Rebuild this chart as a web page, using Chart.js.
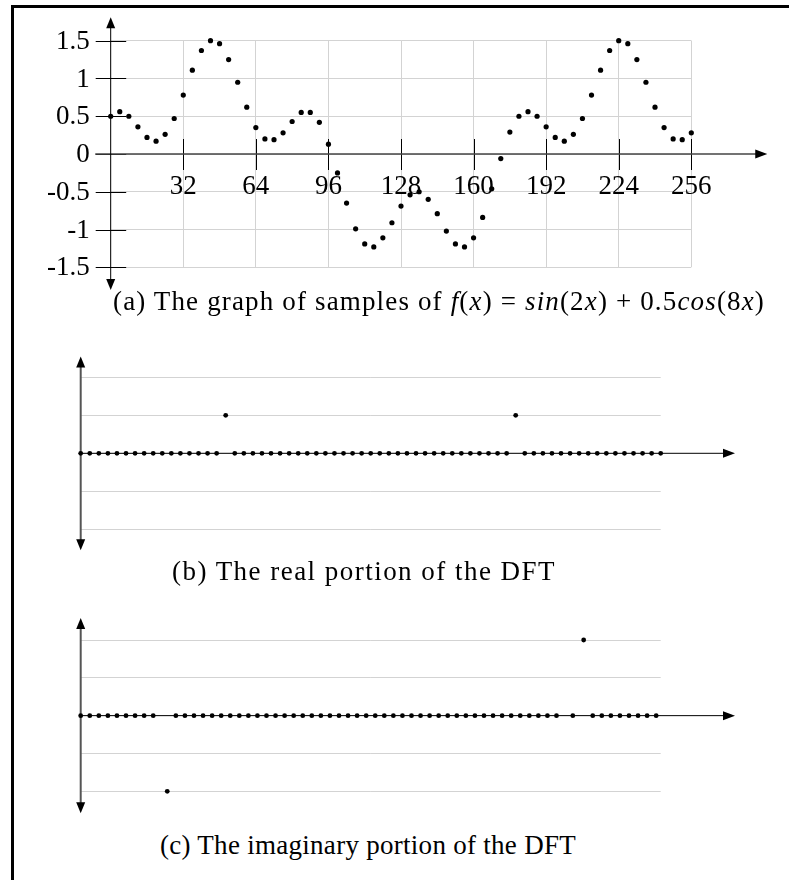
<!DOCTYPE html>
<html>
<head>
<meta charset="utf-8">
<script src="https://cdn.jsdelivr.net/npm/chart.js@4/dist/chart.umd.min.js"></script>
<style>
body{margin:0;background:#fff;width:789px;height:880px;overflow:hidden;position:relative;font-family:"Liberation Serif","DejaVu Serif",serif;}
#frame{position:absolute;left:11px;top:5px;width:820px;height:920px;border-left:3px solid #000;border-top:3px solid #000;}
canvas{position:absolute;left:0;}
.cap{position:absolute;white-space:nowrap;font-size:27px;line-height:32px;color:#000;}
</style>
</head>
<body>
<div id="frame"></div>
<canvas id="chartA" width="789" height="300" style="top:0px"></canvas>
<canvas id="chartB" width="789" height="230" style="top:330px"></canvas>
<canvas id="chartC" width="789" height="230" style="top:595px"></canvas>
<div class="cap" id="capA">(a) The graph of samples of <i>f</i>(<i>x</i>) = <i>sin</i>(2<i>x</i>) + 0.5<i>cos</i>(8<i>x</i>)</div>
<div class="cap" id="capB">(b) The real portion of the DFT</div>
<div class="cap" id="capC">(c) The imaginary portion of the DFT</div>
<script>
// (a) 標本点
const sampleX = [0,4,8,12,16,20,24,28,32,36,40,44,48,52,56,60,64,68,72,76,80,84,88,92,96,100,104,108,112,116,120,124,
  128,132,136,140,144,148,152,156,160,164,168,172,176,180,184,188,192,196,200,204,208,212,216,220,224,228,232,236,240,244,248,252,256];
const sampleY = [0.50,0.56,0.50,0.36,0.22,0.17,0.26,0.47,0.78,1.11,1.37,1.50,1.46,1.25,0.95,0.62,0.35,0.20,0.19,0.28,0.43,0.55,0.55,0.42,0.13,-0.25,-0.65,-0.99,-1.19,-1.23,-1.11,-0.91,
  -0.69,-0.54,-0.50,-0.60,-0.79,-1.02,-1.19,-1.23,-1.11,-0.84,-0.46,-0.06,0.29,0.50,0.56,0.50,0.36,0.22,0.17,0.26,0.47,0.78,1.11,1.37,1.50,1.46,1.25,0.95,0.62,0.35,0.20,0.19,0.28];
const xTickValues = [32,64,96,128,160,192,224,256];
const xTickLabels = ['32','64','96','128','160','192','224','256'];
const yTickValues = [1.5,1,0.5,0,-0.5,-1,-1.5];
const yTickLabels = ['1.5','1','0.5','0','-0.5','-1','-1.5'];

// (b) 実部
const realX = [0,1,2,3,4,5,6,7,8,9,10,11,12,13,14,15,16,17,18,19,20,21,22,23,24,25,26,27,28,29,30,31,
  32,33,34,35,36,37,38,39,40,41,42,43,44,45,46,47,48,49,50,51,52,53,54,55,56,57,58,59,60,61,62,63,64];
const realY = [0,0,0,0,0,0,0,0,0,0,0,0,0,0,0,0,1,0,0,0,0,0,0,0,0,0,0,0,0,0,0,0,
  0,0,0,0,0,0,0,0,0,0,0,0,0,0,0,0,1,0,0,0,0,0,0,0,0,0,0,0,0,0,0,0,0];

// (c) 虚部
const imagX = [0,1,2,3,4,5,6,7,8,9.55,10.5,11.5,12.5,13.5,14.5,15.5,16.5,17.5,18.5,19.5,20.5,21.5,22.5,23.5,24.5,25.5,26.5,27.5,28.5,29.5,30.5,31.5,
  32.5,33.5,34.5,35.5,36.5,37.5,38.5,39.5,40.5,41.5,42.5,43.5,44.5,45.5,46.5,47.5,48.5,49.5,50.5,51.5,52.5,54.3,55.5,56.5,57.5,58.5,59.5,60.5,61.5,62.5,63.5];
const imagY = [0,0,0,0,0,0,0,0,0,-2,0,0,0,0,0,0,0,0,0,0,0,0,0,0,0,0,0,0,0,0,0,0,
  0,0,0,0,0,0,0,0,0,0,0,0,0,0,0,0,0,0,0,0,0,0,2,0,0,0,0,0,0,0,0,0];
const dftTicks = [-2,-1,0,1,2];

const labelFont = '27px "Liberation Serif", "DejaVu Serif", serif';

function toPoints(xs, ys) {
    return xs.map((x, i) => ({x: x, y: ys[i]}));
}

function arrow(c, x, y, dir, len, half) {
    c.beginPath();
    c.moveTo(x, y);
    if (dir === 'right') { c.lineTo(x - len, y - half); c.lineTo(x - len, y + half); }
    if (dir === 'up')    { c.lineTo(x - half, y + len); c.lineTo(x + half, y + len); }
    if (dir === 'down')  { c.lineTo(x - half, y - len); c.lineTo(x + half, y - len); }
    c.closePath();
    c.fill();
}

// 軸と目盛りを描く
function axesPlugin(o) {
    return {
        id: 'axes',
        beforeDatasetsDraw(chart) {
            const c = chart.ctx, xs = chart.scales.x, ys = chart.scales.y;
            const x0 = xs.getPixelForValue(0), y0 = ys.getPixelForValue(0);
            c.save();
            c.fillStyle = '#000';
            // 目盛り線とラベル
            if (o.labels) {
                c.strokeStyle = '#000';
                c.lineWidth = 1;
                c.beginPath();
                yTickValues.forEach(v => {
                    const py = Math.round(ys.getPixelForValue(v)) + 0.5;
                    c.moveTo(x0 - 15, py); c.lineTo(x0 + 15.5, py);
                });
                xTickValues.forEach(v => {
                    const px = Math.round(xs.getPixelForValue(v)) + 0.5;
                    c.moveTo(px, y0 - 15); c.lineTo(px, y0 + 16);
                });
                c.stroke();
                c.font = labelFont;
                c.textBaseline = 'middle';
                c.textAlign = 'right';
                yTickValues.forEach((v, i) => c.fillText(yTickLabels[i], x0 - 21, ys.getPixelForValue(v) + 1));
                c.textAlign = 'center';
                xTickValues.forEach((v, i) => c.fillText(xTickLabels[i], xs.getPixelForValue(v), y0 + 33));
            }
            // x軸
            const xa = xs.getPixelForValue(o.xFrom), xb = xs.getPixelForValue(o.xTo);
            c.strokeStyle = o.xColor;
            c.lineWidth = o.xWidth;
            c.beginPath(); c.moveTo(xa, y0); c.lineTo(xb - 6, y0); c.stroke();
            arrow(c, xb, y0, 'right', 12, 4.5);
            // y軸
            const ya = ys.getPixelForValue(o.yTo), yb = ys.getPixelForValue(o.yFrom);
            c.strokeStyle = o.yColor;
            c.lineWidth = o.yWidth;
            c.beginPath(); c.moveTo(x0, ya + 6); c.lineTo(x0, yb - 6); c.stroke();
            arrow(c, x0, ya, 'up', 11, 4.5);
            arrow(c, x0, yb, 'down', 11, 4.5);
            c.restore();
        }
    };
}

function baseOptions(pad, xmin, xmax, xstep, xgrid, ymin, ymax, ystep) {
    return {
        responsive: false,
        animation: false,
        events: [],
        layout: {autoPadding: false, padding: pad},
        plugins: {legend: {display: false}, tooltip: {enabled: false}},
        scales: {
            x: {type: 'linear', min: xmin, max: xmax,
                ticks: {display: false, stepSize: xstep},
                grid: {display: xgrid, color: '#d3d3d3', drawTicks: false},
                border: {display: false}},
            y: {type: 'linear', min: ymin, max: ymax,
                ticks: {display: false, stepSize: ystep},
                grid: {color: '#d3d3d3', drawTicks: false},
                border: {display: false}}
        }
    };
}

function dotSet(data, r) {
    return {data: data, pointRadius: r, pointBackgroundColor: '#000', pointBorderWidth: 0,
        pointBorderColor: '#000', clip: false, showLine: false};
}

// (a) f(x)の標本
const chartA = new Chart(document.getElementById('chartA'), {
    type: 'scatter',
    data: {datasets: [dotSet(toPoints(sampleX, sampleY), 2.6)]},
    options: baseOptions({left: 110.7, right: 97.7, top: 40.7, bottom: 32.7}, 0, 256, 32, true, -1.5, 1.5, 0.5),
    plugins: [axesPlugin({labels: true, xFrom: -6.8, xTo: 289.5, xColor: '#444', xWidth: 1.6,
        yFrom: -1.8, yTo: 1.81, yColor: '#000', yWidth: 1})]
});

// (b) DFTの実部
const chartB = new Chart(document.getElementById('chartB'), {
    type: 'scatter',
    data: {datasets: [dotSet(toPoints(realX, realY), 2.4)]},
    options: baseOptions({left: 80.7, right: 128.3, top: 47.3, bottom: 30.7}, 0, 64, 8, false, dftTicks[0], dftTicks[4], 1),
    plugins: [axesPlugin({labels: false, xFrom: 0, xTo: 72.2, xColor: '#000', xWidth: 1,
        yFrom: -2.55, yTo: 2.55, yColor: '#555', yWidth: 2})]
});

// (c) DFTの虚部
const chartC = new Chart(document.getElementById('chartC'), {
    type: 'scatter',
    data: {datasets: [dotSet(toPoints(imagX, imagY), 2.4)]},
    options: baseOptions({left: 80.7, right: 128.3, top: 45, bottom: 33.7}, 0, 64, 8, false, dftTicks[0], dftTicks[4], 1),
    plugins: [axesPlugin({labels: false, xFrom: 0, xTo: 72.2, xColor: '#000', xWidth: 1,
        yFrom: -2.58, yTo: 2.58, yColor: '#555', yWidth: 2})]
});

// キャプションの位置合わせ
function placeCaption(id, cx, cy, w) {
    const el = document.getElementById(id);
    const natural = el.getBoundingClientRect().width;
    el.style.letterSpacing = ((w - natural) / el.textContent.length) + 'px';
    const r = el.getBoundingClientRect();
    el.style.left = (cx - r.width / 2) + 'px';
    el.style.top = (cy - r.height / 2) + 'px';
}
placeCaption('capA', 439, 301, 652);
placeCaption('capB', 364, 571, 384);
placeCaption('capC', 368, 845, 416);
</script>
</body>
</html>
